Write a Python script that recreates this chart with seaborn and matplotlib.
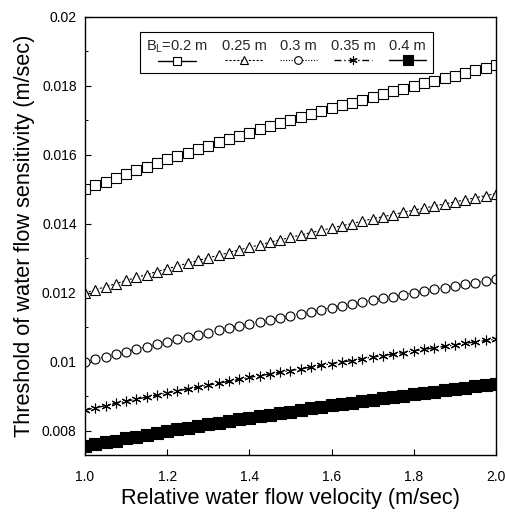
import numpy as np
import pandas as pd
import matplotlib
matplotlib.use("Agg")
import matplotlib.pyplot as plt
from matplotlib.ticker import MultipleLocator, FixedLocator, FixedFormatter
from matplotlib.offsetbox import VPacker
import seaborn as sns

# ---------------- data ----------------
velocity = np.round(np.arange(1.0, 2.0001, 0.025), 3)

bl_labels = ["B$_\\mathrm{L}$=0.2 m", "0.25 m", "0.3 m", "0.35 m", "0.4 m"]

bl_020 = [0.01500, 0.01512, 0.01523, 0.01534, 0.01545, 0.01556, 0.01566, 0.01577, 0.01587, 0.01597,
          0.01607, 0.01617, 0.01627, 0.01637, 0.01646, 0.01656, 0.01665, 0.01674, 0.01683, 0.01692,
          0.01701, 0.01710, 0.01718, 0.01727, 0.01735, 0.01744, 0.01752, 0.01760, 0.01768, 0.01776,
          0.01784, 0.01792, 0.01800, 0.01808, 0.01815, 0.01823, 0.01830, 0.01838, 0.01845, 0.01852,
          0.01860]
bl_025 = [0.01200, 0.01209, 0.01218, 0.01227, 0.01236, 0.01245, 0.01253, 0.01262, 0.01270, 0.01278,
          0.01286, 0.01294, 0.01302, 0.01309, 0.01317, 0.01325, 0.01332, 0.01339, 0.01347, 0.01354,
          0.01361, 0.01368, 0.01375, 0.01381, 0.01388, 0.01395, 0.01401, 0.01408, 0.01415, 0.01421,
          0.01427, 0.01434, 0.01440, 0.01446, 0.01452, 0.01458, 0.01464, 0.01470, 0.01476, 0.01482,
          0.01488]
bl_030 = [0.01000, 0.01008, 0.01015, 0.01023, 0.01030, 0.01037, 0.01044, 0.01051, 0.01058, 0.01065,
          0.01072, 0.01078, 0.01085, 0.01091, 0.01098, 0.01104, 0.01110, 0.01116, 0.01122, 0.01128,
          0.01134, 0.01140, 0.01146, 0.01151, 0.01157, 0.01162, 0.01168, 0.01173, 0.01179, 0.01184,
          0.01189, 0.01195, 0.01200, 0.01205, 0.01210, 0.01215, 0.01220, 0.01225, 0.01230, 0.01235,
          0.01240]
bl_035 = [0.00860, 0.00867, 0.00873, 0.00880, 0.00886, 0.00892, 0.00898, 0.00904, 0.00910, 0.00916,
          0.00922, 0.00927, 0.00933, 0.00938, 0.00944, 0.00949, 0.00955, 0.00960, 0.00965, 0.00970,
          0.00975, 0.00980, 0.00985, 0.00990, 0.00995, 0.01000, 0.01004, 0.01009, 0.01014, 0.01018,
          0.01023, 0.01027, 0.01032, 0.01036, 0.01041, 0.01045, 0.01049, 0.01054, 0.01058, 0.01062,
          0.01066]
bl_040 = [0.00755, 0.00761, 0.00767, 0.00772, 0.00778, 0.00783, 0.00788, 0.00794, 0.00799, 0.00804,
          0.00809, 0.00814, 0.00819, 0.00824, 0.00829, 0.00833, 0.00838, 0.00843, 0.00847, 0.00852,
          0.00856, 0.00861, 0.00865, 0.00869, 0.00874, 0.00878, 0.00882, 0.00886, 0.00890, 0.00894,
          0.00898, 0.00902, 0.00906, 0.00910, 0.00914, 0.00918, 0.00921, 0.00925, 0.00929, 0.00932,
          0.00936]

x_ticks = [1.0, 1.2, 1.4, 1.6, 1.8, 2.0]
x_ticklabels = ["1.0", "1.2", "1.4", "1.6", "1.8", "2.0"]
y_ticks = [0.008, 0.010, 0.012, 0.014, 0.016, 0.018, 0.020]
y_ticklabels = ["0.008", "0.01", "0.012", "0.014", "0.016", "0.018", "0.02"]

# ---------------- style ----------------
sns.set_style("ticks")
plt.rcParams["font.family"] = ["Liberation Sans", "DejaVu Sans"]
plt.rcParams["mathtext.fontset"] = "custom"
plt.rcParams["mathtext.rm"] = "Liberation Sans"
plt.rcParams["mathtext.it"] = "Liberation Sans:italic"

fig = plt.figure(figsize=(5.06, 5.15), dpi=100)
ax = fig.add_axes([0.168, 0.1165, 0.812, 0.8505])

series = [bl_020, bl_025, bl_030, bl_035, bl_040]
styles = [
    dict(marker="s", linestyle="-", markersize=7, markerfacecolor="white", linewidth=1.0),
    dict(marker="^", linestyle=(0, (2, 1.5)), markersize=7, markerfacecolor="white", linewidth=0.8),
    dict(marker="o", linestyle=(0, (1, 1.5)), markersize=6.5, markerfacecolor="white", linewidth=0.8),
    dict(marker=(6, 2, 0), linestyle=(0, (5, 2, 1, 2)), markersize=7, markerfacecolor="black", linewidth=1.0),
    dict(marker="s", linestyle="-", markersize=9, markerfacecolor="black", linewidth=1.0),
]

for vals, lab, st in zip(series, bl_labels, styles):
    sns.lineplot(x=velocity, y=vals, ax=ax, color="black", label=lab,
                 markeredgecolor="black", markeredgewidth=0.8, **st)

ax.set_xlim(1.0, 2.0)
ax.set_ylim(0.0073, 0.020)
ax.xaxis.set_major_locator(FixedLocator(x_ticks))
ax.xaxis.set_major_formatter(FixedFormatter(x_ticklabels))
ax.yaxis.set_major_locator(FixedLocator(y_ticks))
ax.yaxis.set_major_formatter(FixedFormatter(y_ticklabels))
ax.yaxis.set_minor_locator(MultipleLocator(0.001))
ax.tick_params(axis="both", which="both", direction="in", color="black", labelsize=10,
               labelcolor="black")
ax.tick_params(axis="both", which="major", length=4, width=0.8)
ax.tick_params(axis="x", which="major", pad=11)
ax.tick_params(axis="y", which="major", pad=6)
ax.tick_params(axis="y", which="minor", length=2.5, width=0.7)
for sp in ax.spines.values():
    sp.set_visible(True)
    sp.set_color("black")
    sp.set_linewidth(1.0)

ax.set_xlabel("Relative water flow velocity (m/sec)", fontsize=15.7, color="black", labelpad=3)
ax.set_ylabel("Threshold of water flow sensitivity (m/sec)", fontsize=15.7, color="black", labelpad=5)

leg = ax.legend(loc="upper center", bbox_to_anchor=(0.49, 0.983), ncol=5, fontsize=10.5,
                frameon=True, fancybox=False, edgecolor="black", framealpha=1,
                markerfirst=False, handlelength=2.6, handletextpad=0.1, columnspacing=0.9,
                borderpad=0.45, markerscale=0.85)
leg.get_frame().set_linewidth(0.8)
# put each label above its sample line
for col in leg._legend_handle_box.get_children():
    for item in col.get_children():
        item.__class__ = VPacker
        item.align = "center"
        item.sep = 1

fig.savefig("out.png", dpi=100)
